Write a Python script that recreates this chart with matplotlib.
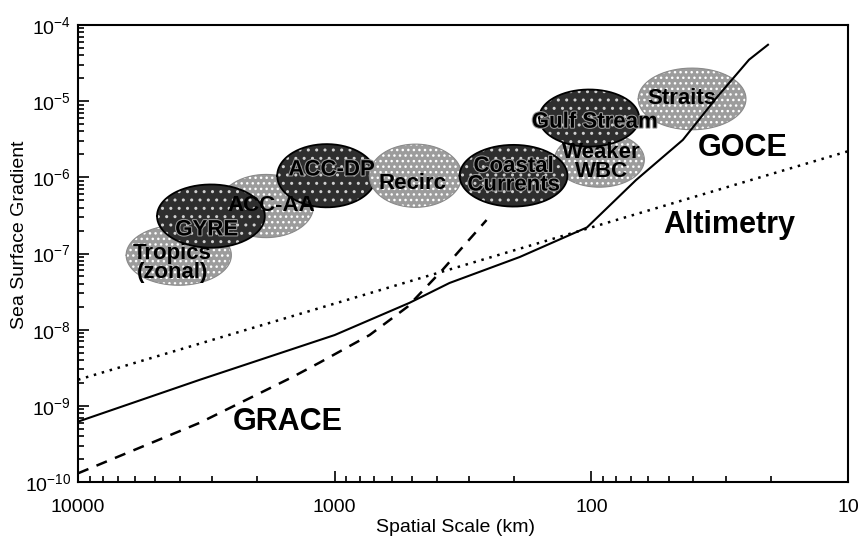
import numpy as np
import matplotlib

matplotlib.use("Agg")
import matplotlib.pyplot as plt
import matplotlib.patheffects as pe

plt.rcParams["font.family"] = ["Liberation Sans", "DejaVu Sans"]
plt.rcParams["mathtext.fontset"] = "custom"
plt.rcParams["mathtext.rm"] = "Liberation Sans"
plt.rcParams["mathtext.it"] = "Liberation Sans:italic"
plt.rcParams["mathtext.bf"] = "Liberation Sans:bold"

# Mission sensitivity curves (spatial scale in km, sea surface gradient)
goce_km = [10000, 3350, 1000, 511, 357, 190, 104, 67, 44, 32.6, 24.3, 20.5]
goce_grad = [6.2e-10, 2.2e-9, 8.5e-9, 2.25e-8, 4.1e-8, 9.0e-8, 2.2e-7,
             9.2e-7, 3.1e-6, 1.1e-5, 3.5e-5, 5.5e-5]

grace_km = [10000, 3350, 1456, 1144, 731, 520, 380, 256]
grace_grad = [1.3e-10, 6.0e-10, 2.4e-9, 3.7e-9, 8.5e-9, 2.0e-8, 6.1e-8, 2.75e-7]

alt_km = [10000, 10]
alt_grad = [2.2e-9, 2.2e-6]

# Ocean features: centre (km, gradient), extent in decades (x, y)
feat_names = ["ACC-AA", "Tropics\n(zonal)", "GYRE", "Weaker\nWBC", "ACC-DP",
              "Recirc", "Coastal\nCurrents", "Gulf Stream", "Straits"]
feat_km = [1850, 4050, 3035, 93, 1075, 484, 201, 102, 40.5]
feat_grad = [4.2e-7, 9.5e-8, 3.1e-7, 1.7e-6, 1.05e-6, 1.05e-6, 1.05e-6, 6.0e-6, 1.07e-5]
feat_wx = [0.37, 0.41, 0.42, 0.35, 0.385, 0.36, 0.42, 0.39, 0.42]
feat_wy = [0.83, 0.79, 0.83, 0.72, 0.83, 0.83, 0.81, 0.75, 0.81]
feat_dark = [False, False, True, False, True, False, True, True, False]
# label anchor (km, gradient)
lab_km = [1760, 4300, 3150, 91.5, 1028, 497, 201, 97, 44.3]
lab_grad = [4.3e-7, 7.5e-8, 2.04e-7, 1.6e-6, 1.25e-6, 8.4e-7, 1.05e-6, 5.3e-6, 1.1e-5]

# mission names (km, gradient)
mission_names = ["GRACE", "GOCE", "Altimetry"]
mission_km = [1524, 25.8, 29]
mission_grad = [6.2e-10, 2.43e-6, 2.37e-7]

x_ticks = [10000, 1000, 100, 10]
x_labels = ["10000", "1000", "100", "10"]

fig = plt.figure(figsize=(8.58, 5.42), dpi=100)
ax = fig.add_axes([78 / 858, 1 - 482 / 542, 770 / 858, 457 / 542])
ax.set_xscale("log")
ax.set_yscale("log")
ax.set_xlim(10000, 10)
ax.set_ylim(1e-10, 1e-4)

# Ellipses drawn in log space so they look like ellipses on the page
t = np.linspace(0, 2 * np.pi, 200)
for i in range(len(feat_names)):
    lx = np.log10(feat_km[i]) + feat_wx[i] / 2 * np.cos(t)
    ly = np.log10(feat_grad[i]) + feat_wy[i] / 2 * np.sin(t)
    z = 2 + i * 0.01
    if feat_dark[i]:
        ax.fill(10 ** lx, 10 ** ly, facecolor="#2e2e2e", edgecolor="#d0d0d0",
                linewidth=0, hatch="..", zorder=z)
        ax.plot(10 ** lx, 10 ** ly, color="black", linewidth=1.3, zorder=z)
    else:
        ax.fill(10 ** lx, 10 ** ly, facecolor="#9c9c9c", edgecolor="white",
                linewidth=0, hatch="...", zorder=z)
        ax.plot(10 ** lx, 10 ** ly, color="#8a8a8a", linewidth=0.8, zorder=z)

for i in range(len(feat_names)):
    txt = ax.text(lab_km[i], lab_grad[i], feat_names[i], fontsize=16,
                  fontweight="bold", ha="center", va="center",
                  linespacing=0.85, zorder=5)
    if feat_dark[i]:
        txt.set_path_effects([pe.withStroke(linewidth=1.5, foreground="#9a9a9a")])

ax.plot(alt_km, alt_grad, color="black", linewidth=1.8,
        linestyle=(0, (1, 2.3)), zorder=4)
ax.plot(grace_km, grace_grad, color="black", linewidth=1.8,
        linestyle=(0, (4.5, 3.5)), zorder=4)
ax.plot(goce_km, goce_grad, color="black", linewidth=1.5, zorder=4)

for name, km, grad in zip(mission_names, mission_km, mission_grad):
    ax.text(km, grad, name, fontsize=22, fontweight="bold",
            ha="center", va="center", zorder=5)

ax.set_xticks(x_ticks)
ax.set_xticklabels(x_labels)
ax.tick_params(which="both", direction="in", top=False, right=False,
               labelsize=14, width=1.2)
ax.tick_params(which="major", length=8)
ax.tick_params(which="minor", length=4)
ax.tick_params(axis="x", pad=12)
ax.tick_params(axis="y", pad=5)
for s in ax.spines.values():
    s.set_linewidth(1.5)

ax.set_xlabel("Spatial Scale (km)", fontsize=14)
ax.set_ylabel("Sea Surface Gradient", fontsize=14)
ax.xaxis.set_label_coords(0.49, -0.081)
ax.yaxis.set_label_coords(-0.065, 0.54)

fig.savefig("out.png", dpi=100)
